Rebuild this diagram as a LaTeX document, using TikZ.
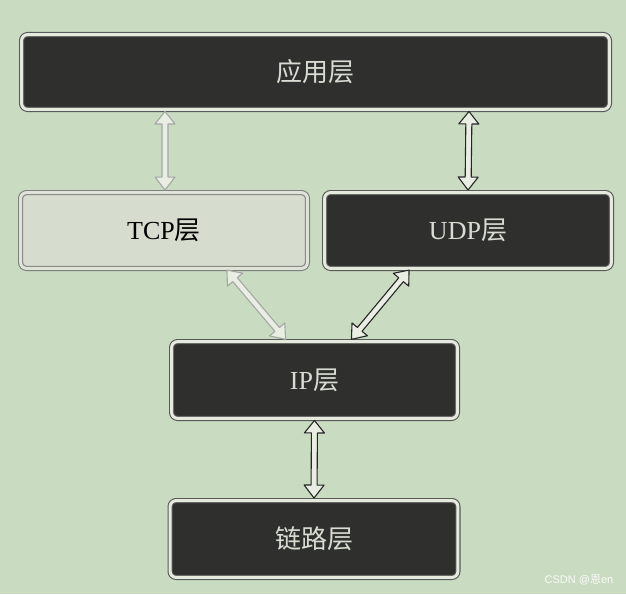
\documentclass[tikz,border=0pt]{standalone}
\usepackage{fontspec}
\setmainfont{Liberation Serif}
\newfontfamily\cjk{Noto Sans CJK SC}
\newfontfamily\wmfont{Liberation Sans}
\usetikzlibrary{calc}
\definecolor{bgcol}{HTML}{C9DBC1}
\definecolor{darkfill}{HTML}{2F302D}
\definecolor{ringcol}{HTML}{E4EBDC}
\definecolor{textlight}{HTML}{D8DCD2}
\definecolor{tcpfill}{HTML}{D6DDCF}
\definecolor{arrowin}{HTML}{E8EEE2}
\tikzset{
  darkbox/.style={rectangle, rounded corners=6pt, draw=black!65, line width=1.1pt,
    double=ringcol, double distance=3pt, fill=darkfill, text=textlight,
    inner sep=0pt, font=\fontsize{26}{30}\selectfont},
  lightbox/.style={rectangle, rounded corners=6pt, draw=black!50, line width=1.1pt,
    double=ringcol!60!tcpfill, double distance=3pt, fill=tcpfill, text=black,
    inner sep=0pt, font=\fontsize{26}{30}\selectfont},
  darkarrow/.style={draw=black!85, line width=1.1pt, fill=arrowin, line join=round},
  lightarrow/.style={draw=black!35, line width=1.1pt, fill=arrowin, line join=round},
}
% hollow double-headed arrow from #2 to #3, style #1
\newcommand\hollowarrow[3]{%
  \path let \p1=(#2), \p2=(#3),
    \n1={atan2(\y2-\y1,\x2-\x1)}, \n2={veclen(\x2-\x1,\y2-\y1)-2pt} in
    [shift={(\p1)}, rotate=\n1, x=1pt, y=1pt]
    [#1] (1.5,0) -- (14,10) -- (14,3) -- ({\n2-13},3) -- ({\n2-13},10) -- (\n2,0)
      -- ({\n2-13},-10) -- ({\n2-13},-3) -- (14,-3) -- (14,-10) -- cycle;%
}
\begin{document}
\begin{tikzpicture}[x=1pt,y=-1pt]
\fill[bgcol] (0,0) rectangle (626,594);
\useasboundingbox (0,0) rectangle (626,594);

\node[darkbox, minimum width=587.8pt, minimum height=74.8pt] (app) at (315.5,72) {{\cjk 应用层}};
\node[lightbox, minimum width=286.8pt, minimum height=75.8pt] (tcp) at (164,230.5) {TCP{\cjk 层}};
\node[darkbox, minimum width=286.8pt, minimum height=75.8pt] (udp) at (468,230.5) {UDP{\cjk 层}};
\node[darkbox, minimum width=285.8pt, minimum height=76.8pt] (ip) at (314.5,380) {IP{\cjk 层}};
\node[darkbox, minimum width=287.8pt, minimum height=76.8pt] (link) at (314,539) {{\cjk 链路层}};

\hollowarrow{lightarrow}{[xshift=-150.5pt]app.south}{[xshift=1pt]tcp.north}
\hollowarrow{darkarrow}{[xshift=153.5pt]app.south}{udp.north}
\hollowarrow{lightarrow}{[xshift=62pt]tcp.south}{[xshift=-27.5pt]ip.north}
\hollowarrow{darkarrow}{[xshift=-58pt]udp.south}{[xshift=35.5pt]ip.north}
\hollowarrow{darkarrow}{ip.south}{link.north}

\node[text=white!90!bgcol, font=\wmfont\fontsize{11}{13}\selectfont] (wm) at (579,580) {CSDN @{\cjk 恩}en};
\end{tikzpicture}
\end{document}
